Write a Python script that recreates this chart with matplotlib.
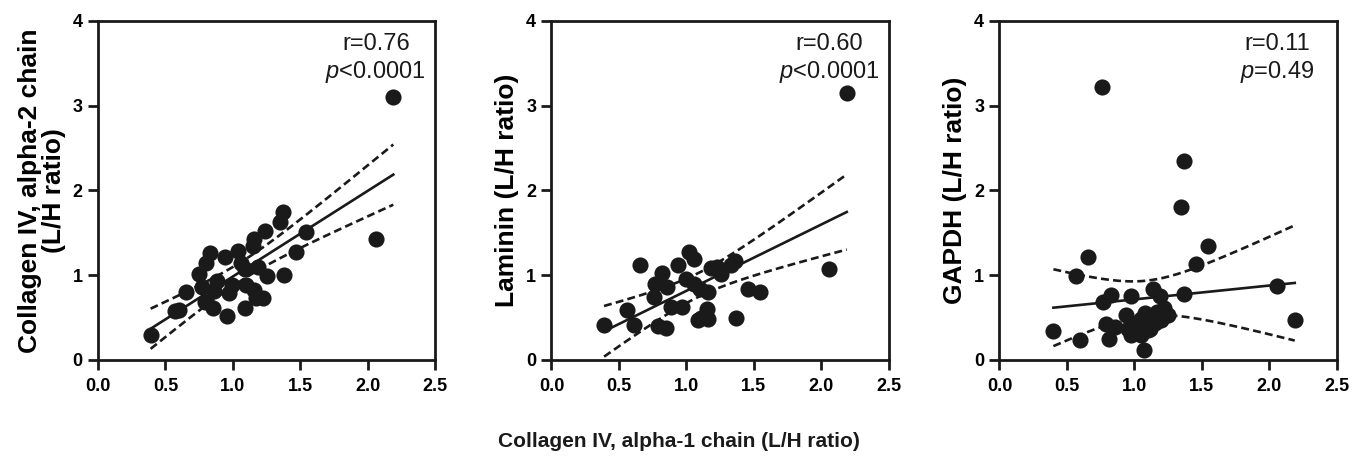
import numpy as np
import matplotlib
matplotlib.use('Agg')
import matplotlib.pyplot as plt

plt.rcParams['font.family'] = ['Liberation Sans', 'DejaVu Sans']
plt.rcParams['mathtext.fontset'] = 'custom'
plt.rcParams['mathtext.rm'] = 'Liberation Sans'
plt.rcParams['mathtext.it'] = 'Liberation Sans:italic'

# x = collagen IV alpha-1 chain (L/H ratio), y = second protein
col2_x = [0.39, 0.57, 0.60, 0.65, 0.83, 0.80, 0.75, 0.77, 0.88, 0.86, 0.79, 0.85,
          0.96, 0.94, 0.975, 0.99, 1.04, 1.06, 1.09, 1.09, 1.10, 1.16, 1.17, 1.22,
          1.25, 1.19, 1.16, 1.15, 1.235, 1.35, 1.37, 1.38, 1.47, 1.545, 2.06, 2.19]
col2_y = [0.29, 0.575, 0.595, 0.80, 1.26, 1.15, 1.02, 0.86, 0.93, 0.81, 0.69, 0.61,
          0.515, 1.22, 0.79, 0.89, 1.28, 1.15, 1.07, 0.61, 0.89, 0.83, 0.73, 0.73,
          0.99, 1.10, 1.43, 1.35, 1.52, 1.63, 1.745, 1.00, 1.27, 1.51, 1.43, 3.10]

lam_x = [0.39, 0.56, 0.61, 0.66, 0.82, 0.77, 0.76, 0.86, 0.89, 0.79, 0.85, 0.94,
         1.02, 1.06, 0.97, 1.00, 1.06, 1.10, 1.16, 1.15, 1.11, 1.16, 1.09, 1.18,
         1.23, 1.26, 1.36, 1.33, 1.46, 1.545, 1.37, 2.06, 2.19]
lam_y = [0.41, 0.59, 0.41, 1.12, 1.03, 0.90, 0.74, 0.86, 0.63, 0.40, 0.38, 1.12,
         1.27, 1.19, 0.62, 0.96, 0.90, 0.84, 0.80, 0.60, 0.50, 0.48, 0.47, 1.08,
         1.10, 1.02, 1.17, 1.12, 0.84, 0.80, 0.50, 1.07, 3.15]

gapdh_x = [0.40, 0.565, 0.60, 0.66, 0.76, 0.77, 0.83, 0.79, 0.81, 0.86, 0.94, 0.975,
           0.95, 0.975, 1.075, 1.05, 1.09, 1.12, 1.14, 1.19, 1.17, 1.22, 1.25, 1.12,
           1.37, 1.35, 1.37, 1.46, 1.545, 2.06, 2.19,
           1.00, 1.05, 1.10, 1.15, 1.20, 1.08]
gapdh_y = [0.34, 0.99, 0.24, 1.22, 3.22, 0.68, 0.77, 0.43, 0.25, 0.39, 0.53, 0.75,
           0.37, 0.30, 0.12, 0.30, 0.45, 0.51, 0.84, 0.75, 0.57, 0.61, 0.53, 0.37,
           2.35, 1.80, 0.78, 1.13, 1.34, 0.87, 0.47,
           0.42, 0.48, 0.35, 0.44, 0.47, 0.55]

panels = [
    (col2_x, col2_y, 'Collagen IV, alpha-2 chain\n(L/H ratio)', 'r=0.76', r'$\mathit{p}$<0.0001'),
    (lam_x, lam_y, 'Laminin (L/H ratio)', 'r=0.60', r'$\mathit{p}$<0.0001'),
    (gapdh_x, gapdh_y, 'GAPDH (L/H ratio)', 'r=0.11', r'$\mathit{p}$=0.49'),
]

ink = '#1a1a1a'
fig = plt.figure(figsize=(13.58, 4.63), dpi=100)
lefts = [0.0722, 0.4061, 0.736]

for left, (x, y, ylab, rtxt, ptxt) in zip(lefts, panels):
    ax = fig.add_axes([left, 0.2225, 0.2482, 0.7322])
    x = np.array(x)
    y = np.array(y)
    ax.scatter(x, y, s=135, color=ink, zorder=3, linewidths=0)

    # linear fit with 95% confidence band
    n = len(x)
    slope, icpt = np.polyfit(x, y, 1)
    xs = np.linspace(x.min(), x.max(), 200)
    fit = icpt + slope * xs
    resid = y - (icpt + slope * x)
    s = np.sqrt(np.sum(resid ** 2) / (n - 2))
    t = 2.03
    se = s * np.sqrt(1.0 / n + (xs - x.mean()) ** 2 / np.sum((x - x.mean()) ** 2))
    ax.plot(xs, fit, color=ink, lw=1.9, zorder=2)
    ax.plot(xs, fit + t * se, color=ink, lw=1.9, ls=(0, (3.0, 1.6)), zorder=2)
    ax.plot(xs, fit - t * se, color=ink, lw=1.9, ls=(0, (3.0, 1.6)), zorder=2)

    ax.set_xlim(0, 2.5)
    ax.set_ylim(0, 4)
    ax.set_xticks([0.0, 0.5, 1.0, 1.5, 2.0, 2.5])
    ax.set_xticklabels(['0.0', '0.5', '1.0', '1.5', '2.0', '2.5'])
    ax.set_yticks([0, 1, 2, 3, 4])
    for sp in ax.spines.values():
        sp.set_linewidth(2.0)
        sp.set_color(ink)
    ax.tick_params(width=2.0, length=7.5, color=ink, labelsize=13)
    ax.tick_params(axis='x', pad=5.5)
    ax.tick_params(axis='y', pad=3.5)
    for lab in ax.get_xticklabels() + ax.get_yticklabels():
        lab.set_fontweight('bold')
    ax.set_ylabel(ylab, fontsize=19, fontweight='bold', linespacing=1.0, labelpad=5)

    ax.text(2.06, 3.66, rtxt, ha='center', va='baseline', fontsize=17, color=ink)
    ax.text(2.06, 3.33, ptxt, ha='center', va='baseline', fontsize=17, color=ink)

fig.text(0.5, 0.0475, 'Collagen IV, alpha-1 chain (L/H ratio)', ha='center', va='center',
         fontsize=15, fontweight='bold', color=ink)

fig.savefig('out.png', dpi=100)
